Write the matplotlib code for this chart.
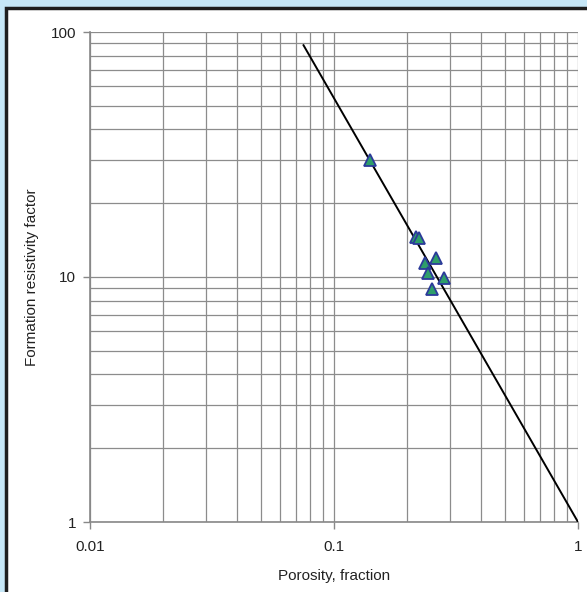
import matplotlib.pyplot as plt
from matplotlib.patches import Rectangle
from matplotlib.ticker import LogLocator, FixedFormatter, FixedLocator

plt.rcParams['font.family'] = ['Liberation Sans', 'DejaVu Sans']

# measured samples
porosity = [0.140, 0.217, 0.223, 0.236, 0.262, 0.243, 0.283, 0.252]
form_factor = [30.0, 14.6, 14.4, 11.4, 12.0, 10.4, 9.9, 8.9]

# fitted Archie line F = 1 / phi^1.73
line_phi = [0.075, 1.0]
line_F = [88.3, 1.0]

x_ticks = [0.01, 0.1, 1]
x_labels = ['0.01', '0.1', '1']
y_ticks = [1, 10, 100]
y_labels = ['1', '10', '100']

fig = plt.figure(figsize=(5.87, 5.92), dpi=100, facecolor='#c6e7f7')
fig.patches.append(Rectangle((6 / 587, -0.05), 1.0, 1 - 8 / 592 + 0.05,
                             transform=fig.transFigure, facecolor='white',
                             edgecolor='#1e1e1e', linewidth=2.5, zorder=-5))

ax = fig.add_axes([90 / 587, 1 - 522 / 592, 488 / 587, 490 / 592])
ax.set_zorder(1)
ax.set_facecolor('white')
ax.set_xscale('log')
ax.set_yscale('log')
ax.set_xlim(0.01, 1)
ax.set_ylim(1, 100)

ax.xaxis.set_major_locator(FixedLocator(x_ticks))
ax.xaxis.set_major_formatter(FixedFormatter(x_labels))
ax.yaxis.set_major_locator(FixedLocator(y_ticks))
ax.yaxis.set_major_formatter(FixedFormatter(y_labels))
ax.xaxis.set_minor_locator(LogLocator(base=10, subs=range(2, 10)))
ax.yaxis.set_minor_locator(LogLocator(base=10, subs=range(2, 10)))
ax.tick_params(which='minor', length=0)
ax.tick_params(which='major', direction='out', length=5, width=1, color='#888888',
               labelsize=11, labelcolor='#222222')
ax.tick_params(axis='x', which='major', pad=8)
ax.tick_params(axis='y', which='major', pad=5)

ax.grid(True, which='both', color='#8c8c8c', linewidth=0.9)
for side in ['top', 'right']:
    ax.spines[side].set_visible(False)
for side in ['left', 'bottom']:
    ax.spines[side].set_color('#888888')
    ax.spines[side].set_linewidth(1.2)

ax.plot(line_phi, line_F, color='black', linewidth=1.4, zorder=3)
ax.plot(porosity, form_factor, linestyle='none', marker='^', markersize=8,
        markerfacecolor='#2e9e6a', markeredgecolor='#2b3a9a', markeredgewidth=1.3,
        zorder=4, clip_on=False)

ax.set_xlabel('Porosity, fraction', fontsize=11, color='#222222', labelpad=11)
ax.set_ylabel('Formation resistivity factor', fontsize=11, color='#222222', labelpad=8)

fig.savefig('out.png', dpi=100, facecolor=fig.get_facecolor())
